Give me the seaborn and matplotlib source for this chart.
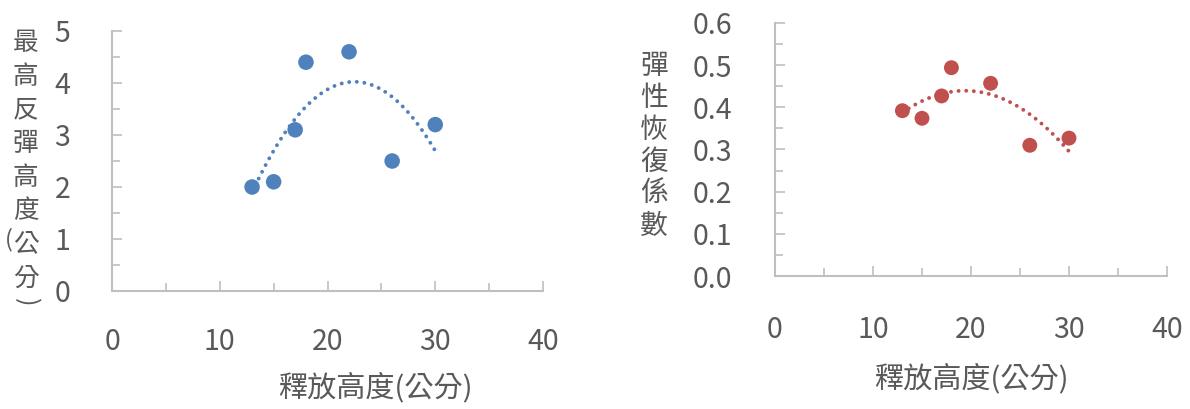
import numpy as np
import pandas as pd
import matplotlib
matplotlib.use("Agg")
import matplotlib.pyplot as plt
from matplotlib.ticker import MultipleLocator, FormatStrFormatter
import seaborn as sns

# Drop heights (cm) and measurements
release_height = [13, 15, 17, 18, 22, 26, 30]
bounce_height = [2.0, 2.1, 3.1, 4.4, 4.6, 2.5, 3.2]
restitution = [0.392, 0.374, 0.427, 0.494, 0.457, 0.310, 0.327]

x_label = "釋放高度(公分)"
y_label_left = "最高反彈高度公分"
y_label_right = "彈性恢復係數"

blue = "#4F81BD"
red = "#C0504D"
axis_grey = "#BFBFBF"
text_grey = "#595959"

sns.set_style("white")
plt.rcParams["font.family"] = ["Noto Sans CJK TC", "DejaVu Sans"]

df = pd.DataFrame({"release": release_height, "bounce": bounce_height,
                   "coef": restitution})

W, H = 1190, 409
fig = plt.figure(figsize=(W / 100, H / 100), dpi=100)
ax1 = fig.add_axes([112 / W, 1 - 291 / H, 431 / W, 260 / H])
ax2 = fig.add_axes([775 / W, 1 - 276 / H, 392 / W, 253 / H])


def trend(ax, col, color):
    coeffs = np.polyfit(df["release"], df[col], 2)
    xs = np.linspace(df["release"].min(), df["release"].max(), 200)
    sns.lineplot(x=xs, y=np.polyval(coeffs, xs), ax=ax, color=color,
                 linewidth=2.8, zorder=3,
                 linestyle=(0, (0.01, 1.95)), dash_capstyle="round")


def style(ax, ymax, ymajor, yfmt, xpad, ypad):
    ax.set_xlim(0, 40)
    ax.set_ylim(0, ymax)
    ax.xaxis.set_major_locator(MultipleLocator(10))
    ax.xaxis.set_minor_locator(MultipleLocator(5))
    ax.yaxis.set_major_locator(MultipleLocator(ymajor))
    ax.yaxis.set_minor_locator(MultipleLocator(ymajor / 2))
    ax.yaxis.set_major_formatter(FormatStrFormatter(yfmt))
    for s in ["top", "right"]:
        ax.spines[s].set_visible(False)
    for s in ["left", "bottom"]:
        ax.spines[s].set_color(axis_grey)
        ax.spines[s].set_linewidth(1.5)
    ax.tick_params(which="both", direction="in", color=axis_grey, width=1.2,
                   bottom=True, left=True, top=False, right=False,
                   labelcolor=text_grey, labelsize=20.5)
    ax.tick_params(which="major", length=7)
    ax.tick_params(which="minor", length=5.5)
    ax.tick_params(axis="x", which="major", pad=xpad)
    ax.tick_params(axis="y", which="major", pad=ypad)
    ax.set_ylabel("")
    ax.patch.set_alpha(0)


def vertical_label(chars, xc, y0, step, size):
    for i, ch in enumerate(chars):
        fig.text(xc / W, 1 - (y0 + i * step) / H, ch, ha="center",
                 va="center", fontsize=size, color=text_grey)


# Left panel: bounce height
sns.scatterplot(data=df, x="release", y="bounce", ax=ax1, color=blue,
                s=125, edgecolor="none", zorder=2)
trend(ax1, "bounce", blue)
style(ax1, 5, 1, "%d", 26, 30)
ax1.set_xlabel(x_label, fontsize=21, color=text_grey)
ax1.xaxis.set_label_coords((375 - 112) / 431, (291 - 388) / 260)
ax1.xaxis.label.set_verticalalignment("center")
vertical_label(y_label_left, 25.5, 43.5, 33.6, 18.5)
fig.text(9 / W, 1 - 240 / H, "(", ha="center", va="center",
         fontsize=17, color=text_grey)
fig.text(25.5 / W, 1 - 302 / H, ")", ha="center", va="center",
         fontsize=18.5, color=text_grey, rotation=-90)

# Right panel: coefficient of restitution
sns.scatterplot(data=df, x="release", y="coef", ax=ax2, color=red,
                s=115, edgecolor="none", zorder=2)
trend(ax2, "coef", red)
style(ax2, 0.6, 0.1, "%.1f", 28, 31)
ax2.set_xlabel(x_label, fontsize=21, color=text_grey)
ax2.xaxis.set_label_coords(0.5, (276 - 379) / 253)
ax2.xaxis.label.set_verticalalignment("center")
vertical_label(y_label_right, 654, 66, 32, 20)

fig.savefig("out.png", dpi=100)
